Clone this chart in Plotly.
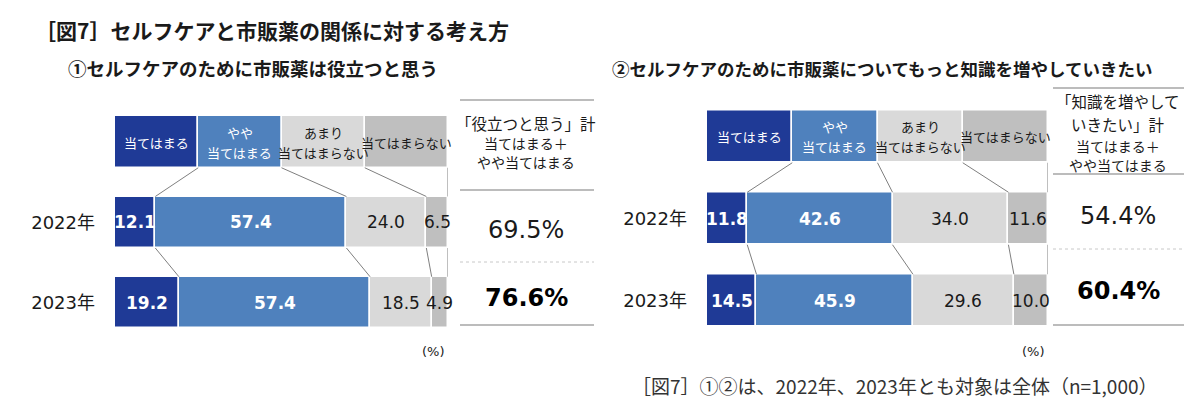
import plotly.graph_objects as go

# ---------------- data ----------------
categories = ["当てはまる", "やや<br>当てはまる", "あまり<br>当てはまらない", "当てはまらない"]
years = ["2022年", "2023年"]
q1_2022 = [12.1, 57.4, 24.0, 6.5]
q1_2023 = [19.2, 57.4, 18.5, 4.9]
q2_2022 = [11.8, 42.6, 34.0, 11.6]
q2_2023 = [14.5, 45.9, 29.6, 10.0]

title_text = "［図7］セルフケアと市販薬の関係に対する考え方"
sub1_text = "①セルフケアのために市販薬は役立つと思う"
sub2_text = "②セルフケアのために市販薬についてもっと知識を増やしていきたい"
sum1_head = ["「役立つと思う」計", "当てはまる＋", "やや当てはまる"]
sum2_head = ["「知識を増やして", "いきたい」計", "当てはまる＋", "やや当てはまる"]
footnote_text = "［図7］①②は、2022年、2023年とも対象は全体（n=1,000）"
unit_text = "(%)"

# ---------------- style ----------------
W, H = 1200, 415
OFF = 8  # page body margin of the browser
colors = ["#1F3A96", "#4F81BD", "#D9D9D9", "#BFBFBF"]
txt_colors = ["#FFFFFF", "#FFFFFF", "#1A1A1A", "#1A1A1A"]
JP = "Noto Sans CJK JP"
NUM = "DejaVu Sans, Noto Sans CJK JP"


def px(x):
    return (x - OFF) / W


def py(y):
    return 1 - (y - OFF) / H


def cumbase(vals):
    out, s = [], 0.0
    for v in vals:
        out.append(s)
        s += v
    return out


panels = [
    dict(d22=q1_2022, d23=q1_2023, xa="x", ya="y", xl=115, xr=448,
         c0=142.0, step=80.25, bh=51.5,
         sum_head=sum1_head, head_y=[123, 143, 162], head_sz=[15.5, 14, 14],
         sum_x=526, sum_y=[230, 298],
         lines=dict(x0=460, x1=594, top=100, mid=190, dot=262, bot=325),
         unit_x=433),
    dict(d22=q2_2022, d23=q2_2023, xa="x2", ya="y2", xl=707, xr=1048,
         c0=136.5, step=82.0, bh=52.5,
         sum_head=sum2_head, head_y=[101, 124, 146, 165], head_sz=[15.5, 15.5, 14, 14],
         sum_x=1118, sum_y=[216, 291],
         lines=dict(x0=1053, x1=1184, top=88, mid=174, dot=249, bot=325),
         unit_x=1033),
]

fig = go.Figure()
annotations = []
shapes = []
layout_axes = {}


def ann(x, y, text, font, xref="paper", yref="paper", xanchor="center", yanchor="middle", yshift=0):
    annotations.append(dict(x=x, y=y, xref=xref, yref=yref, text=text, showarrow=False,
                            xanchor=xanchor, yanchor=yanchor, yshift=yshift, font=font))


ncat = len(categories)
for pi, p in enumerate(panels):
    hw = 100.0 / ncat
    b22 = cumbase(p["d22"])
    b23 = cumbase(p["d23"])
    w = p["bh"] / p["step"]
    for k in range(ncat):
        fig.add_trace(go.Bar(
            orientation="h",
            y=[0, 1, 2],
            x=[hw, p["d22"][k], p["d23"][k]],
            base=[hw * k, b22[k], b23[k]],
            width=w,
            marker=dict(color=colors[k], line=dict(color="white", width=1.5)),
            xaxis=p["xa"], yaxis=p["ya"],
            hoverinfo="skip", showlegend=False,
        ))
        # header label lines
        lines = categories[k].split("<br>")
        n = len(lines)
        for li, ln in enumerate(lines):
            ann(hw * k + hw / 2, 0, ln, dict(family=JP, size=13, color=txt_colors[k]),
                xref=p["xa"], yref=p["ya"], yshift=((n - 1) / 2 - li) * 20)
        # value labels
        for row, (vals, bases) in enumerate([(p["d22"], b22), (p["d23"], b23)], start=1):
            ann(bases[k] + vals[k] / 2, row, f"{vals[k]:.1f}",
                dict(family=NUM, size=17, color=txt_colors[k],
                     weight="bold" if k < 2 else "normal"),
                xref=p["xa"], yref=p["ya"])
    # connector lines
    hb = [hw * (k + 1) for k in range(ncat)]
    c22 = [b22[k] + p["d22"][k] for k in range(ncat)]
    c23 = [b23[k] + p["d23"][k] for k in range(ncat)]
    for k in range(ncat):
        shapes.append(dict(type="line", xref=p["xa"], yref=p["ya"],
                           x0=hb[k], y0=0 + w / 2, x1=c22[k], y1=1 - w / 2,
                           line=dict(color="#7F7F7F", width=1)))
        shapes.append(dict(type="line", xref=p["xa"], yref=p["ya"],
                           x0=c22[k], y0=1 + w / 2, x1=c23[k], y1=2 - w / 2,
                           line=dict(color="#7F7F7F", width=1)))
    # axes
    ytop = p["c0"] - 0.5 * p["step"]
    ybot = p["c0"] + 2.5 * p["step"]
    xkey = "xaxis" if pi == 0 else "xaxis2"
    ykey = "yaxis" if pi == 0 else "yaxis2"
    layout_axes[xkey] = dict(domain=[px(p["xl"]), px(p["xr"])], range=[0, 100],
                             showgrid=False, zeroline=False, showticklabels=False,
                             showline=False, fixedrange=True, anchor=p["ya"])
    layout_axes[ykey] = dict(domain=[py(ybot), py(ytop)], range=[2.5, -0.5],
                             tickvals=[1, 2], ticktext=years,
                             tickfont=dict(family=NUM, size=18, color="#1A1A1A"),
                             ticklabelstandoff=19, ticks="",
                             showgrid=False, zeroline=False, showline=False,
                             fixedrange=True, anchor=p["xa"])
    # summary panel
    L = p["lines"]
    for key, dash, col in [("top", "solid", "#A6A6A6"), ("mid", "solid", "#A6A6A6"),
                           ("dot", "dot", "#C8C8C8"), ("bot", "solid", "#A6A6A6")]:
        shapes.append(dict(type="line", xref="paper", yref="paper",
                           x0=px(L["x0"]), x1=px(L["x1"]), y0=py(L[key]), y1=py(L[key]),
                           line=dict(color=col, width=1.5 if dash == "solid" else 1, dash=dash)))
    for txt, yy, sz in zip(p["sum_head"], p["head_y"], p["head_sz"]):
        ann(px(p["sum_x"]), py(yy), txt, dict(family=JP, size=sz, color="#1A1A1A"))
    tot22 = p["d22"][0] + p["d22"][1]
    tot23 = p["d23"][0] + p["d23"][1]
    ann(px(p["sum_x"]), py(p["sum_y"][0]), f"{tot22:.1f}%",
        dict(family=NUM, size=24, color="#1A1A1A"))
    ann(px(p["sum_x"]), py(p["sum_y"][1]), f"{tot23:.1f}%",
        dict(family=NUM, size=24, color="#000000", weight="bold"))
    ann(px(p["unit_x"]), py(351), unit_text, dict(family=NUM, size=13, color="#1A1A1A"))

# titles
ann(px(33), py(30), title_text, dict(family=JP, size=21, color="#1A1A1A", weight="bold"),
    xanchor="left")
ann(px(66), py(68), sub1_text, dict(family=JP, size=18.5, color="#1A1A1A", weight="bold"),
    xanchor="left")
ann(px(610), py(68), sub2_text, dict(family=JP, size=17.5, color="#1A1A1A", weight="bold"),
    xanchor="left")
ann(px(1160), py(385), footnote_text, dict(family=JP, size=19, color="#333333"),
    xanchor="right")

fig.update_layout(
    width=W, height=H,
    margin=dict(l=0, r=0, t=0, b=0),
    paper_bgcolor="white", plot_bgcolor="white",
    barmode="overlay", bargap=0,
    annotations=annotations, shapes=shapes,
    showlegend=False,
    **layout_axes,
)

fig.write_html("out.html", config={"displayModeBar": False})
